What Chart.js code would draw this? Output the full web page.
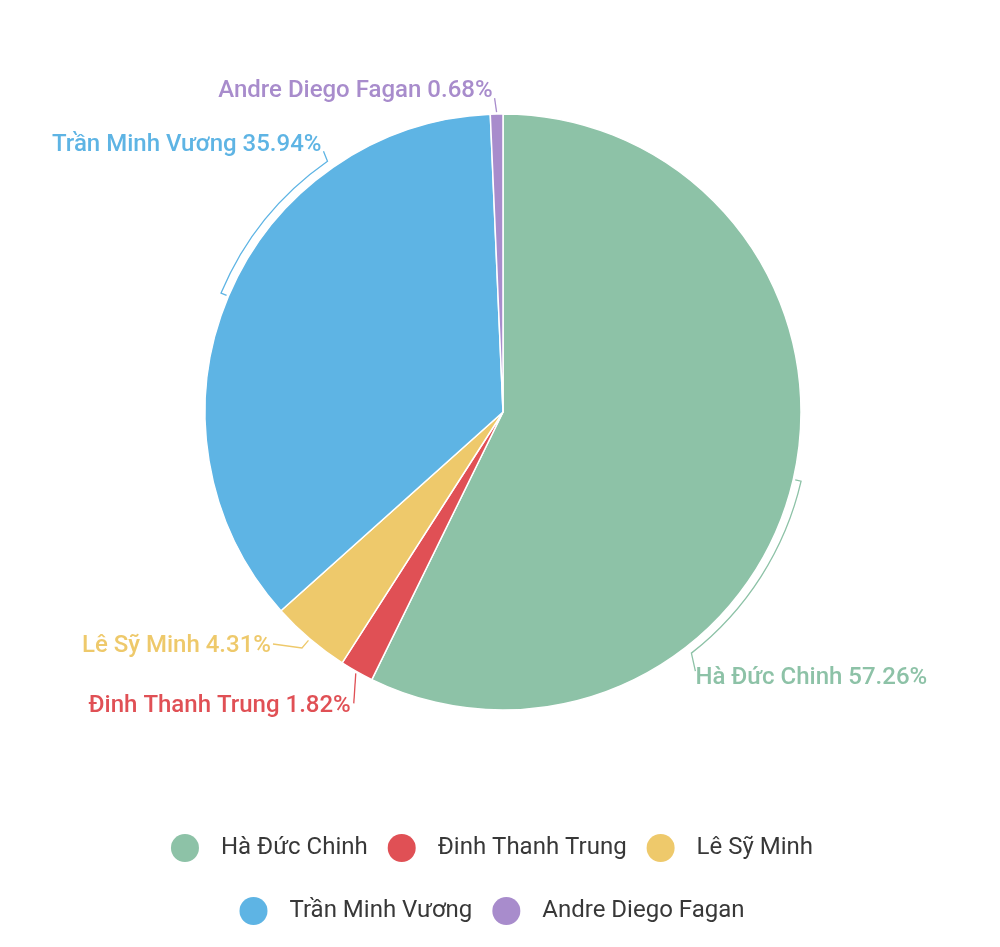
<!DOCTYPE html>
<html><head><meta charset="utf-8">
<script src="https://cdn.jsdelivr.net/npm/chart.js@4"></script>
<style>html,body{margin:0;padding:0;background:#fff}#wrap{width:1000px;height:947px;position:relative}</style>
</head><body><div id="wrap"><canvas id="c"></canvas></div>
<script>
const categories = ['Hà Đức Chinh', 'Đinh Thanh Trung', 'Lê Sỹ Minh', 'Trần Minh Vương', 'Andre Diego Fagan'];
const shares = [57.26, 1.82, 4.31, 35.94, 0.68];
const colors = ['#8dc2a7', '#e05055', '#eec96b', '#5eb4e4', '#a88ccc'];

// connector / label styling per slice (angles in clock degrees)
const labelLayout = [
  {ext: 8, arcTo: 142, tip: [4, 18], text: [0, 7], align: 'left'},
  {ext: 0, arcTo: null, tip: [-2, 30], text: [-3, 3], align: 'right'},
  {ext: 12, arcTo: null, tip: [-29, -4], text: [-2, 2], align: 'right'},
  {ext: 8, arcTo: 325, tip: [-4, -10], text: [-2, -6], align: 'right'},
  {ext: 0, arcTo: null, tip: [-2, -14], text: [-2, -7], align: 'right'}
];

const outLabels = {
  id: 'outLabels',
  afterDatasetsDraw(chart) {
    const ctx = chart.ctx;
    const meta = chart.getDatasetMeta(0);
    meta.data.forEach((arc, i) => {
      const {x, y, startAngle, endAngle, outerRadius} = arc.getProps(['x', 'y', 'startAngle', 'endAngle', 'outerRadius'], true);
      const mid = (startAngle + endAngle) / 2;
      const L = labelLayout[i];
      const pt = (a, r) => [x + r * Math.cos(a), y + r * Math.sin(a)];
      ctx.save();
      ctx.strokeStyle = colors[i];
      ctx.lineWidth = 1.3;
      ctx.beginPath();
      let p = pt(mid, outerRadius + 2);
      ctx.moveTo(p[0], p[1]);
      if (L.ext) { p = pt(mid, outerRadius + L.ext); ctx.lineTo(p[0], p[1]); }
      if (L.arcTo !== null) {
        const a2 = L.arcTo * Math.PI / 180 - Math.PI / 2;
        ctx.arc(x, y, outerRadius + L.ext, mid, a2, a2 < mid);
        p = pt(a2, outerRadius + L.ext);
      }
      const tip = [p[0] + L.tip[0], p[1] + L.tip[1]];
      ctx.lineTo(tip[0], tip[1]);
      ctx.stroke();
      ctx.font = '500 24px Roboto';
      ctx.fillStyle = colors[i];
      ctx.textAlign = L.align;
      ctx.textBaseline = 'middle';
      ctx.fillText(categories[i] + ' ' + shares[i].toFixed(2) + '%', tip[0] + L.text[0], tip[1] + L.text[1]);
      ctx.restore();
    });
  }
};

const legendDots = {
  id: 'legendDots',
  afterLayout(chart) {
    const lg = chart.legend;
    lg.left -= 11; lg.right -= 11;
  },
  afterDraw(chart) {
    const lg = chart.legend;
    const ctx = chart.ctx;
    ctx.save();
    lg.legendHitBoxes.forEach((hb, i) => {
      ctx.beginPath();
      ctx.fillStyle = colors[i];
      ctx.arc(hb.left + 14, hb.top + hb.height / 2, 14, 0, Math.PI * 2);
      ctx.fill();
    });
    ctx.restore();
  }
};

new Chart(document.getElementById('c'), {
  type: 'pie',
  data: {
    labels: categories,
    datasets: [{
      data: shares,
      backgroundColor: colors,
      borderColor: '#ffffff',
      borderWidth: 1.5,
      radius: 298
    }]
  },
  options: {
    responsive: true,
    maintainAspectRatio: false,
    animation: false,
    layout: {padding: {top: 17.5, bottom: 4.5, left: 103, right: 97}},
    plugins: {
      tooltip: {enabled: false},
      legend: {
        position: 'bottom',
        labels: {
          boxWidth: 38,
          boxHeight: 43,
          padding: 20,
          color: '#383838',
          font: {family: 'Roboto', size: 24},
          generateLabels(chart) {
            const items = Chart.overrides.pie.plugins.legend.labels.generateLabels(chart);
            return items.map(it => Object.assign(it, {fillStyle: 'rgba(0,0,0,0)', strokeStyle: 'rgba(0,0,0,0)', lineWidth: 0}));
          }
        }
      }
    }
  },
  plugins: [outLabels, legendDots]
});
</script>
</body></html>
